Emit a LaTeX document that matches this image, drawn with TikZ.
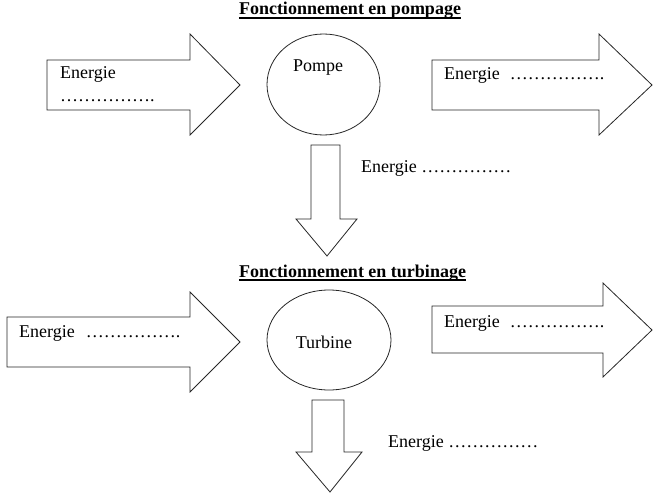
\documentclass[tikz,border=0pt]{standalone}
\usepackage{fontspec}
\setmainfont{Liberation Serif}
\usetikzlibrary{calc}

\begin{document}
\begin{tikzpicture}[x=1pt,y=-1pt,
  fleche/.style={draw=black!85,line width=0.8pt,fill=white,line join=miter},
  txt/.style={inner sep=0pt,anchor=base west,font=\fontsize{18}{22}\selectfont},
  titre/.style={inner sep=0pt,anchor=base,font=\fontsize{18}{22}\selectfont\bfseries}]
\useasboundingbox (0,0) rectangle (656,500);
% fonctionnement en pompage
\draw (350,15) node (tpomp) [titre] {Fonctionnement en pompage};
\draw[line width=1.3pt] ($(tpomp.base west)+(0,3)$) -- ($(tpomp.base east)+(0,3)$);
\draw[fleche] (47,60) -- (190,60) -- (190,34) -- (240,85) -- (190,135) -- (190,110) -- (47,110) -- cycle;
\draw (60,79) node (e1) [txt] {Energie};
\draw (60,102) node (e1b) [txt] {…………….};
\draw[fleche] (323.5,84.5) ellipse (56.5 and 50.5);
\draw (318,72) node (pompe) [txt,anchor=base] {Pompe};
\draw[fleche] (432,60) -- (599,60) -- (599,34) -- (652,85) -- (599,135) -- (599,110) -- (432,110) -- cycle;
\draw (444,80) node (e2) [txt] {Energie\hspace{10pt}…………….};
\draw[fleche] (311,145) -- (340,145) -- (340,219) -- (357,219) -- (327,256) -- (296,219) -- (311,219) -- cycle;
\draw (361,172) node (e3) [txt] {Energie ……………};
% fonctionnement en turbinage
\draw (352.5,277) node (tturb) [titre] {Fonctionnement en turbinage};
\draw[line width=1.3pt] ($(tturb.base west)+(0,3)$) -- ($(tturb.base east)+(0,3)$);
\draw[fleche] (7,317) -- (190,317) -- (190,292) -- (240,342) -- (190,392) -- (190,367) -- (7,367) -- cycle;
\draw (19,337) node (e4) [txt] {Energie\hspace{11pt}…………….};
\draw[fleche] (329,340) ellipse (62 and 50);
\draw (324,348) node (turbine) [txt,anchor=base] {Turbine};
\draw[fleche] (432,306) -- (603,306) -- (603,283) -- (652,330) -- (603,377) -- (603,353) -- (432,353) -- cycle;
\draw (444,327) node (e5) [txt] {Energie\hspace{10pt}…………….};
\draw[fleche] (312,400) -- (344,400) -- (344,452) -- (362,452) -- (330,492) -- (296,452) -- (312,452) -- cycle;
\draw (388,447) node (e6) [txt] {Energie ……………};
\end{tikzpicture}
\end{document}
